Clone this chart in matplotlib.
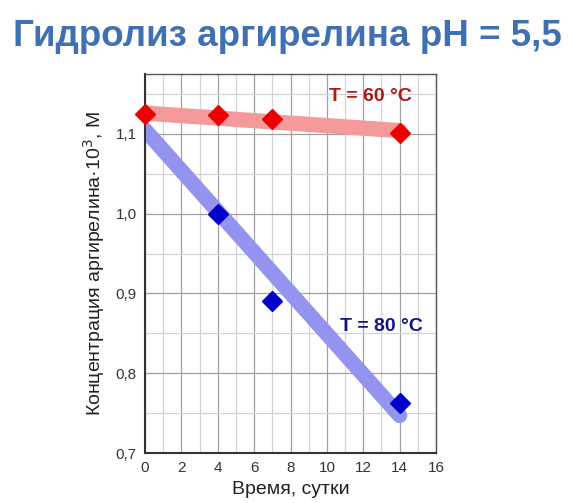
import matplotlib
matplotlib.use("Agg")
import matplotlib.pyplot as plt
from matplotlib.ticker import MultipleLocator, FuncFormatter

plt.rcParams['font.family'] = ['Liberation Sans', 'DejaVu Sans']

days = [0, 4, 7, 14]
conc_60 = [1.125, 1.124, 1.118, 1.101]
conc_80_days = [4, 7, 14]
conc_80 = [1.0, 0.89, 0.763]
fit60_x = [0, 14]
fit60_y = [1.126, 1.104]
fit80_x = [0, 14]
fit80_y = [1.105, 0.747]

fig = plt.figure(figsize=(5.74, 5.03), dpi=100)
ax = fig.add_axes([0.2526, 0.0994, 0.507, 0.7535])

ax.plot(fit60_x, fit60_y, color='#F49A9A', lw=11, solid_capstyle='round', zorder=2)
ax.plot(fit80_x, fit80_y, color='#9494F0', lw=11, solid_capstyle='round', zorder=2)
ax.plot(days, conc_60, 'D', color='#EE0000', ms=10, mec='#EE0000', zorder=3, clip_on=False)
ax.plot(conc_80_days, conc_80, 'D', color='#0000CC', ms=10, mec='#0000CC', zorder=3, clip_on=False)

ax.set_xlim(0, 16)
ax.set_ylim(0.7, 1.175)
ax.xaxis.set_major_locator(MultipleLocator(2))
ax.xaxis.set_minor_locator(MultipleLocator(1))
ax.yaxis.set_major_locator(MultipleLocator(0.1))
ax.yaxis.set_minor_locator(MultipleLocator(0.05))
ax.yaxis.set_major_formatter(FuncFormatter(lambda v, p: f"{v:.1f}".replace('.', ',')))
ax.grid(which='major', color='#a0a0a0', lw=0.9)
ax.grid(which='minor', color='#d4d4d4', lw=0.9)
ax.set_axisbelow(True)
ax.tick_params(which='both', length=0, labelsize=11, colors='#333333', pad=6)
for s in ['left', 'bottom']:
    ax.spines[s].set_color('#333333')
    ax.spines[s].set_linewidth(1.5)
for s in ['top', 'right']:
    ax.spines[s].set_color('#555555')
    ax.spines[s].set_linewidth(1.0)

ax.set_xlabel('Время, сутки', fontsize=14, color='#222222', labelpad=4)
ax.set_ylabel('Концентрация аргирелина·10$^3$, М', fontsize=14, color='#222222', labelpad=6)

ax.text(10.1, 1.147, 'T = 60 °C', color='#B01818', fontsize=14, fontweight='bold', va='center')
ax.text(10.7, 0.858, 'T = 80 °C', color='#14148A', fontsize=14, fontweight='bold', va='center')

fig.text(0.5, 0.928, 'Гидролиз аргирелина pH = 5,5', ha='center', va='center',
         fontsize=26.5, fontweight='bold', color='#4070B4')

fig.savefig('out.png', dpi=100)
